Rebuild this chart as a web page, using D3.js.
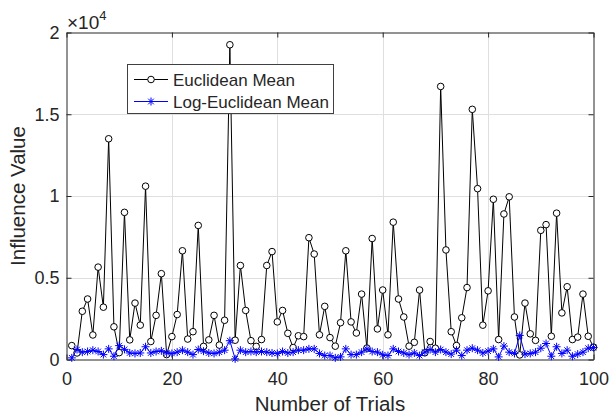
<!DOCTYPE html>
<html>
<head>
<meta charset="utf-8">
<script src="https://cdn.jsdelivr.net/npm/d3@7"></script>
<style>
  html, body { margin: 0; padding: 0; background: #fff; }
  svg { display: block; }
  text { font-family: "Liberation Sans", Arial, Helvetica, sans-serif; fill: #262626; }
</style>
</head>
<body>
<svg id="chart" width="610" height="415"></svg>
<script>
// Trial numbers 1..100
const trials = d3.range(1, 101);

// Influence values per trial, Euclidean mean
const euclideanMean = [
  850, 400, 2950, 3700, 1500, 5650, 3200, 13500, 2000, 420,
  9000, 1200, 3450, 2100, 10600, 1100, 2700, 5250, 300, 1400,
  2750, 6650, 1250, 1700, 8200, 800, 1200, 2700, 880, 2400,
  19250, 1180, 5750, 3000, 1150, 800, 1220, 5750, 6600, 2300,
  3000, 1600, 730, 1450, 1400, 7450, 6450, 1510, 3250, 1340,
  815, 2250, 6650, 2300, 1620, 4000, 700, 7400, 1870, 4250,
  1510, 8400, 3700, 2600, 815, 1050, 4250, 410, 1100, 690,
  16700, 6700, 1700, 855, 2550, 4400, 15300, 10450, 2100, 4200,
  9800, 1220, 8900, 9950, 2600, 280, 3450, 1570, 1170, 7900,
  8250, 1420, 8950, 2850, 4450, 1220, 1370, 4000, 1420, 750
];

// Influence values per trial, Log-Euclidean mean
const logEuclideanMean = [
  100, 610, 450, 490, 570, 490, 300, 650, 200, 850,
  620, 400, 370, 400, 780, 400, 490, 530, 400, 370,
  450, 570, 450, 300, 610, 510, 400, 370, 450, 570,
  1150, 40, 570, 450, 490, 450, 490, 450, 400, 370,
  490, 400, 450, 570, 570, 650, 650, 370, 240, 240,
  100, 160, 650, 300, 300, 450, 650, 490, 450, 290,
  240, 650, 490, 400, 300, 400, 240, 450, 610, 450,
  610, 450, 330, 570, 240, 570, 690, 570, 400, 510,
  650, 160, 820, 450, 370, 1470, 330, 370, 450, 690,
  980, 200, 780, 370, 570, 200, 330, 450, 690, 730
];

const seriesNames = ["Euclidean Mean", "Log-Euclidean Mean"];
const xTicks = [0, 20, 40, 60, 80, 100];
const yTicks = [0, 5000, 10000, 15000, 20000];
const yTickLabels = ["0", "0.5", "1", "1.5", "2"];

const svg = d3.select("#chart");
const pLeft = 66.5, pRight = 593.5, pTop = 32.5, pBottom = 359.5;
const tickLen = 5;
const circleR = 3.3, starR = 4;

const x = d3.scaleLinear().domain([0, 100]).range([pLeft, pRight]);
const y = d3.scaleLinear().domain([0, 20000]).range([pBottom, pTop]);

// grid
const grid = svg.append("g").attr("stroke", "#dfdfdf").attr("stroke-width", 1);
xTicks.slice(1, -1).forEach(t => {
  grid.append("line").attr("x1", Math.round(x(t)) + 0.5).attr("x2", Math.round(x(t)) + 0.5)
    .attr("y1", pTop).attr("y2", pBottom);
});
yTicks.slice(1, -1).forEach(t => {
  grid.append("line").attr("y1", Math.round(y(t)) + 0.5).attr("y2", Math.round(y(t)) + 0.5)
    .attr("x1", pLeft).attr("x2", pRight);
});

// axes with inward ticks
const fmtY = d => yTickLabels[yTicks.indexOf(d)];
const axB = svg.append("g").attr("transform", `translate(0,${pBottom})`)
  .call(d3.axisBottom(x).tickValues(xTicks).tickSizeInner(-tickLen).tickSizeOuter(0).tickPadding(13));
const axT = svg.append("g").attr("transform", `translate(0,${pTop})`)
  .call(d3.axisTop(x).tickValues(xTicks).tickSizeInner(-tickLen).tickSizeOuter(0).tickFormat(""));
const axL = svg.append("g").attr("transform", `translate(${pLeft},0)`)
  .call(d3.axisLeft(y).tickValues(yTicks).tickSizeInner(-tickLen).tickSizeOuter(0).tickPadding(7).tickFormat(fmtY));
const axR = svg.append("g").attr("transform", `translate(${pRight},0)`)
  .call(d3.axisRight(y).tickValues(yTicks).tickSizeInner(-tickLen).tickSizeOuter(0).tickFormat(""));
[axB, axT, axL, axR].forEach(g => {
  g.selectAll("path.domain").attr("stroke", "#262626");
  g.selectAll(".tick line").attr("stroke", "#262626");
  g.selectAll(".tick text").style("font-size", "18px").attr("fill", "#262626")
    .style("font-family", "'Liberation Sans', Arial, sans-serif");
});

// exponent label
const expo = svg.append("text").attr("x", 67).attr("y", 29).style("font-size", "19px");
expo.append("tspan").text("\u00d710");
expo.append("tspan").attr("dy", -9).style("font-size", "13px").text("4");

// asterisk marker path (plus + cross)
function asterisk(r) {
  const d = r * Math.SQRT1_2;
  return `M0,${-r}L0,${r}M${-r},0L${r},0M${-d},${-d}L${d},${d}M${-d},${d}L${d},${-d}`;
}

const plot = svg.append("g");
const lineGen = d3.line().x((d, i) => x(trials[i])).y(d => y(d));

// Euclidean mean: black line with open circles
plot.append("path").datum(euclideanMean).attr("d", lineGen)
  .attr("fill", "none").attr("stroke", "#000").attr("stroke-width", 1);
plot.append("g").selectAll("circle").data(euclideanMean).join("circle")
  .attr("cx", (d, i) => x(trials[i])).attr("cy", d => y(d)).attr("r", circleR)
  .attr("fill", "#fff").attr("stroke", "#000").attr("stroke-width", 1);

// Log-Euclidean mean: blue line with asterisks
plot.append("path").datum(logEuclideanMean).attr("d", lineGen)
  .attr("fill", "none").attr("stroke", "#0000ff").attr("stroke-width", 1);
plot.append("g").selectAll("path").data(logEuclideanMean).join("path")
  .attr("transform", (d, i) => `translate(${x(trials[i])},${y(d)})`)
  .attr("d", asterisk(starR)).attr("fill", "none").attr("stroke", "#0000ff").attr("stroke-width", 1);

// axis titles
svg.append("text").attr("x", (pLeft + pRight) / 2).attr("y", 411).attr("text-anchor", "middle")
  .style("font-size", "20.5px").text("Number of Trials");
svg.append("text").attr("transform", `translate(25,${(pTop + pBottom) / 2}) rotate(-90)`)
  .attr("text-anchor", "middle").style("font-size", "20.5px").text("Influence Value");

// legend
const lg = svg.append("g");
lg.append("rect").attr("x", 127.5).attr("y", 64.5).attr("width", 206).attr("height", 49)
  .attr("fill", "#fff").attr("stroke", "#404040").attr("stroke-width", 1);
const rows = [
  { name: seriesNames[0], color: "#000", marker: "circle", yy: 79.5 },
  { name: seriesNames[1], color: "#0000ff", marker: "asterisk", yy: 101.5 }
];
rows.forEach(r => {
  lg.append("line").attr("x1", 134).attr("x2", 168).attr("y1", r.yy).attr("y2", r.yy)
    .attr("stroke", r.color).attr("stroke-width", 1);
  if (r.marker === "circle") {
    lg.append("circle").attr("cx", 151).attr("cy", r.yy).attr("r", circleR)
      .attr("fill", "#fff").attr("stroke", r.color);
  } else {
    lg.append("path").attr("transform", `translate(151,${r.yy})`).attr("d", asterisk(starR))
      .attr("fill", "none").attr("stroke", r.color);
  }
  lg.append("text").attr("x", 173).attr("y", r.yy + 6.5).style("font-size", "17px").text(r.name);
});
</script>
</body>
</html>
